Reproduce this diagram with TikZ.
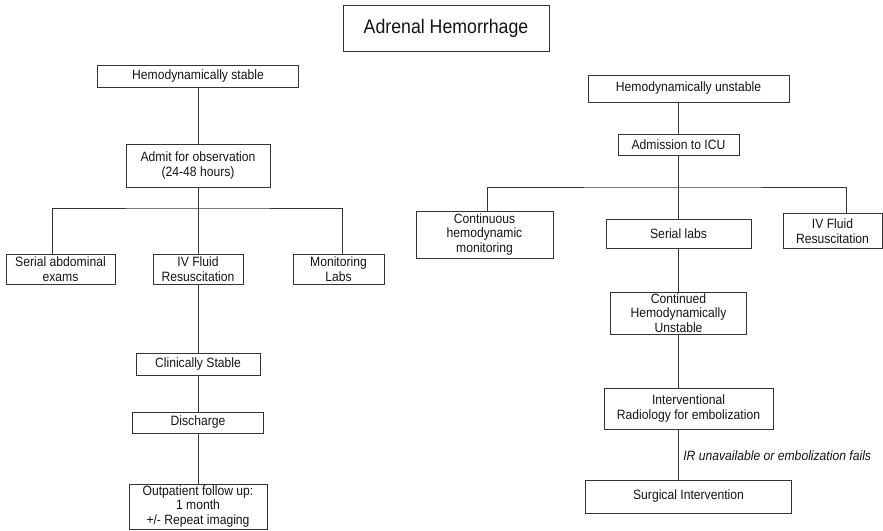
\documentclass[tikz,border=0pt]{standalone}
\usepackage{fontspec}
\setmainfont{Liberation Sans}[FakeStretch=0.9]
\usepackage{tikz}
\usetikzlibrary{positioning}
\definecolor{ink}{gray}{0.2}
\definecolor{inktext}{gray}{0.08}
\newcommand{\bodyfont}{\fontsize{13.5}{14.5}\selectfont}
\newcommand{\headfont}{\fontsize{19.7}{22}\selectfont}
\tikzstyle{block} = [draw=ink, rectangle, align=center, inner xsep=2pt, inner ysep=1pt, text=inktext, font=\bodyfont]
\tikzstyle{headbox} = [draw=ink, rectangle, text=inktext, font=\headfont, minimum width=206pt, minimum height=46pt]
\tikzstyle{branch} = [coordinate]
\tikzstyle{link} = [draw=ink, line width=1pt]

\begin{document}
\begin{tikzpicture}[x=1pt, y=-1pt, line width=1pt, on grid]
\useasboundingbox (0,0) rectangle (883,530);

\node [headbox] (title) at (446,28) {Adrenal Hemorrhage};

% stable branch
\node [block, minimum width=201pt, minimum height=22pt] (stable) at (198,76) {Hemodynamically stable};
\node [block, below=89.5pt of stable, minimum width=144pt, minimum height=43pt] (admit) {Admit for observation\\(24-48 hours)};
\node [block, below=103.5pt of admit, minimum width=90pt, minimum height=30pt] (ivleft) {IV Fluid\\Resuscitation};
\node [block, left=137.5pt of ivleft, minimum width=109pt, minimum height=30pt] (exams) {Serial abdominal\\exams};
\node [block, right=140.5pt of ivleft, minimum width=91pt, minimum height=30pt] (monlabs) {Monitoring\\Labs};
\node [block, below=95pt of ivleft, minimum width=124pt, minimum height=22pt] (clinstable) {Clinically Stable};
\node [block, below=58.5pt of clinstable, minimum width=131pt, minimum height=21pt] (discharge) {Discharge};
\node [block, below=84pt of discharge, minimum width=138pt, minimum height=45pt] (followup) {Outpatient follow up:\\1 month\\+/- Repeat imaging};
\node [branch] (lbranch) at (198,208) {};

\draw [link] (stable) -- (admit);
\draw [link] (admit) -- (ivleft);
\draw [link] ([xshift=-8.5pt]exams.north) |- (lbranch) -| ([xshift=3.5pt]monlabs.north);
\draw [link] (ivleft) -- (clinstable);
\draw [link] (clinstable) -- (discharge);
\draw [link] (discharge) -- (followup);

% unstable branch
\node [block, minimum width=201pt, minimum height=27pt] (unstable) at (688.5,88.5) {Hemodynamically unstable};
\node [block, below=56pt of unstable, xshift=-10pt, minimum width=121pt, minimum height=21pt] (icu) {Admission to ICU};
\node [block, below=89pt of icu, minimum width=145pt, minimum height=29pt] (serlabs) {Serial labs};
\node [block, left=194pt of serlabs, yshift=-1pt, minimum width=137pt, minimum height=47pt] (monitor) {Continuous\\hemodynamic\\monitoring};
\node [block, right=154pt of serlabs, yshift=2.5pt, minimum width=99pt, minimum height=35pt] (ivright) {IV Fluid\\Resuscitation};
\node [block, below=79.5pt of serlabs, minimum width=136pt, minimum height=42pt] (contunst) {Continued\\Hemodynamically\\Unstable};
\node [block, below=95.5pt of contunst, xshift=10pt, minimum width=169pt, minimum height=41pt] (embol) {Interventional\\Radiology for embolization};
\node [block, below=88pt of embol, minimum width=206pt, minimum height=33pt] (surgery) {Surgical Intervention};
\node [branch] (rbranch) at (678.5,187) {};

\draw [link] (unstable.south -| icu) -- (icu);
\draw [link] (icu) -- (serlabs);
\draw [link] ([xshift=2.5pt]monitor.north) |- (rbranch) -| ([xshift=13.5pt]ivright.north);
\draw [link] (serlabs) -- (contunst);
\draw [link] (contunst) -- (contunst |- embol.north);
\draw [link] (embol.south -| contunst) -- node [right, text=inktext, font=\bodyfont\itshape, xshift=1pt, yshift=-1pt] {IR unavailable or embolization fails} (surgery.north -| contunst);
\end{tikzpicture}
\end{document}
